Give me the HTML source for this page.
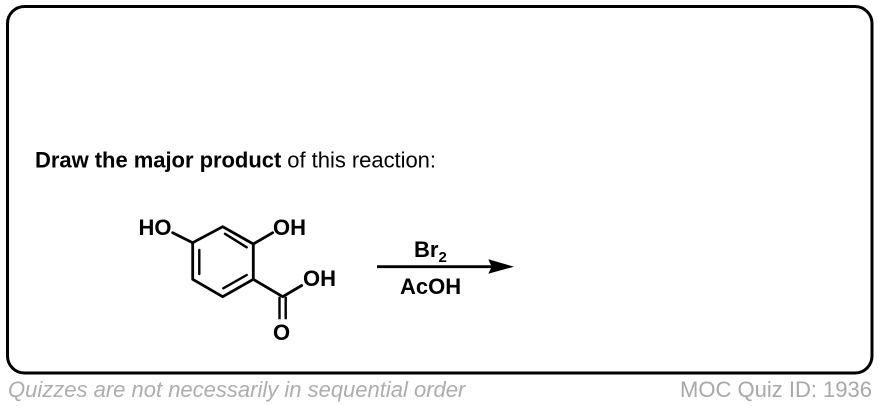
<!DOCTYPE html>
<html><head><meta charset="utf-8"><style>
html,body{margin:0;padding:0;background:#fff}
svg{display:block}
text{font-family:"Liberation Sans",sans-serif}
</style></head><body>
<svg width="878" height="406" viewBox="0 0 878 406" xmlns="http://www.w3.org/2000/svg">
<rect x="7.5" y="6.5" width="864.5" height="366.5" rx="17" ry="17" fill="#fff" stroke="#000" stroke-width="3"/>
<text x="35" y="167.5" font-size="22" textLength="401"><tspan font-weight="bold">Draw the major product</tspan> of this reaction:</text>
<g stroke="#000" stroke-width="2.8" fill="none" stroke-linecap="round" stroke-linejoin="round">
<path d="M192.7 242.7L222.7 226.7L253.3 244V279.3L222.7 296.7L192.7 279.3Z"/>
<path d="M225 233.8L246.7 247.3M223.3 288.3L246.7 275M199.3 250V274" stroke-width="2.4"/>
<path d="M172.7 232.7L192.7 242.7M253.3 244L272.7 232.7M253.3 279.3L282.7 296.7L301.7 285.5"/>
<path d="M279.5 296.7V319.3M285.7 296.7V319.3" stroke-linecap="butt" stroke-width="2.4"/>
</g>
<g font-size="22" font-weight="bold" fill="#000">
<text x="138.5" y="235">HO</text>
<text x="273" y="235">OH</text>
<text x="303" y="286">OH</text>
<text x="273" y="340">O</text>
<text x="414" y="257">Br<tspan font-size="15" dy="5">2</tspan></text>
<text x="400" y="294">AcOH</text>
</g>
<path d="M377 266.7H492" stroke="#000" stroke-width="2.8"/>
<path d="M514 266.7L488.3 259.3L491.7 266.7L488.3 273.7Z" fill="#000"/>
<text x="8" y="397" font-size="22" font-style="italic" fill="#adadad">Quizzes are not necessarily in sequential order</text>
<text x="872" y="397" font-size="22" fill="#a8a8a8" text-anchor="end">MOC Quiz ID: 1936</text>
</svg>
</body></html>
